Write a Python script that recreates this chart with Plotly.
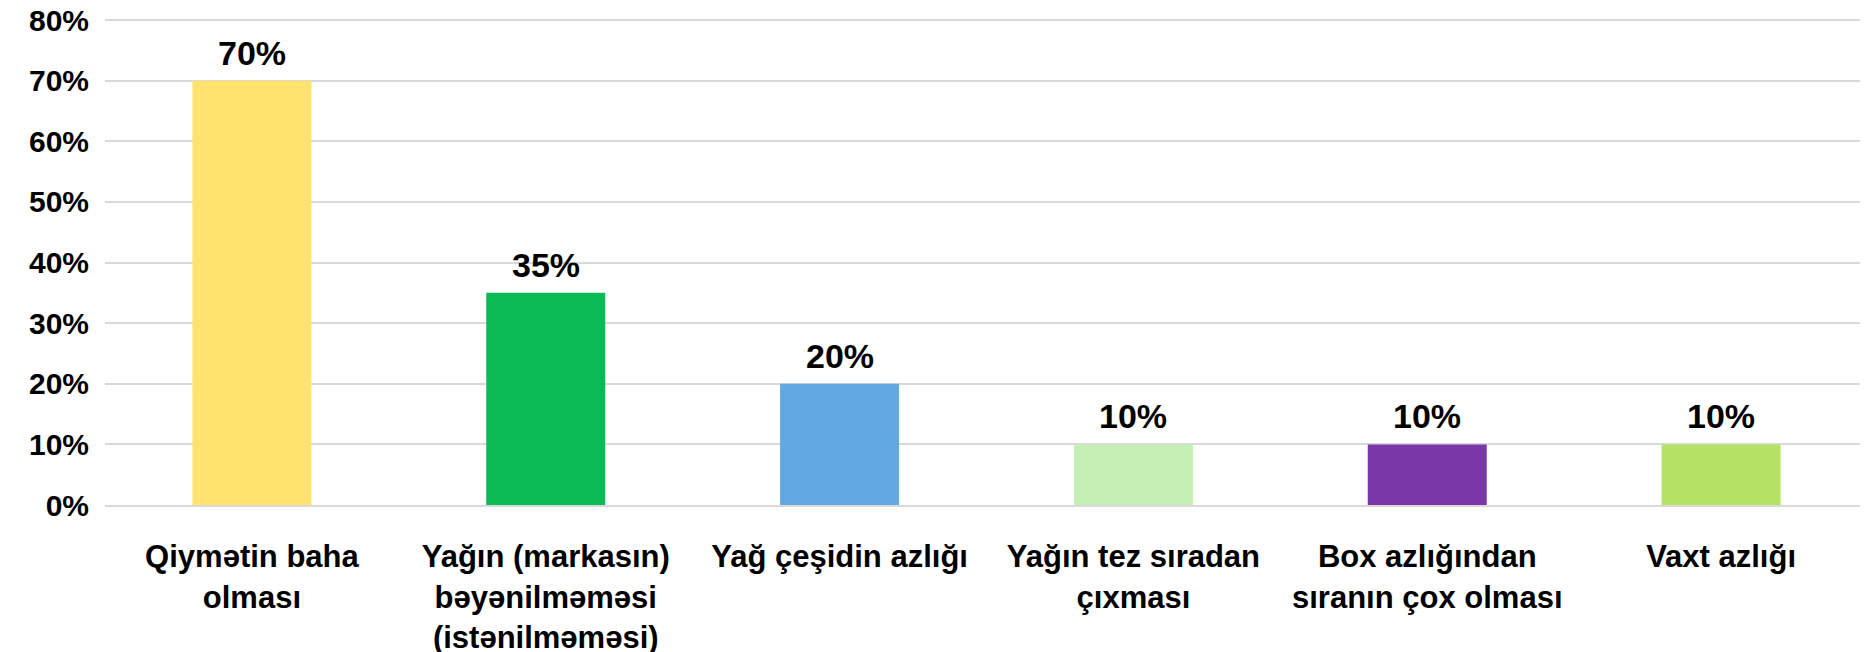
import plotly.graph_objects as go

categories = [
    "Qiymətin baha<br>olması",
    "Yağın (markasın)<br>bəyənilməməsi<br>(istənilməməsi)",
    "Yağ çeşidin azlığı",
    "Yağın tez sıradan<br>çıxması",
    "Box azlığından<br>sıranın çox olması",
    "Vaxt azlığı",
]
values = [70, 35, 20, 10, 10, 10]
bar_colors = ["#FFE36E", "#0BBA55", "#62A9E2", "#C5EFB4", "#7A37A8", "#B6E264"]
y_ticks = [0, 10, 20, 30, 40, 50, 60, 70, 80]
y_tick_labels = [f"{v}%" for v in y_ticks]

font_family = "Liberation Sans, Arial, sans-serif"

fig = go.Figure()
fig.add_trace(go.Bar(
    x=categories,
    y=values,
    marker=dict(color=bar_colors, line=dict(width=0)),
    showlegend=False,
))

# value labels above the bars, a bit further off than plotly's outside text
for cat, val in zip(categories, values):
    fig.add_annotation(
        x=cat, y=val, text=f"{val}%",
        showarrow=False, yanchor="middle", yshift=28,
        font=dict(family=font_family, size=34, color="#000000", weight="bold"),
    )

# page body has an 8px default margin, so the figure is offset by that much
fig.update_layout(
    width=1860,
    height=652,
    margin=dict(l=97, r=0, t=6, b=155),
    paper_bgcolor="white",
    plot_bgcolor="white",
    bargap=0.595,
    font=dict(family=font_family, size=30, color="#000000", weight="bold"),
)
fig.update_yaxes(
    range=[0, 81],  # a little headroom so the 80% gridline is drawn
    tickvals=y_ticks,
    ticktext=y_tick_labels,
    showgrid=True,
    gridcolor="#D9D9D9",
    gridwidth=2,
    zeroline=False,
    showline=False,
    ticks="",
    automargin=False,
    ticklabeloverflow="allow",
    ticklabelstandoff=15,
    tickfont=dict(family=font_family, size=30, color="#000000", weight="bold"),
)
fig.update_xaxes(
    showline=True,
    linecolor="#D9D9D9",
    linewidth=2,
    ticks="",
    automargin=False,
    ticklabelstandoff=23,
    tickfont=dict(family=font_family, size=31, color="#000000", weight="bold"),
)

fig.write_html("out.html")
